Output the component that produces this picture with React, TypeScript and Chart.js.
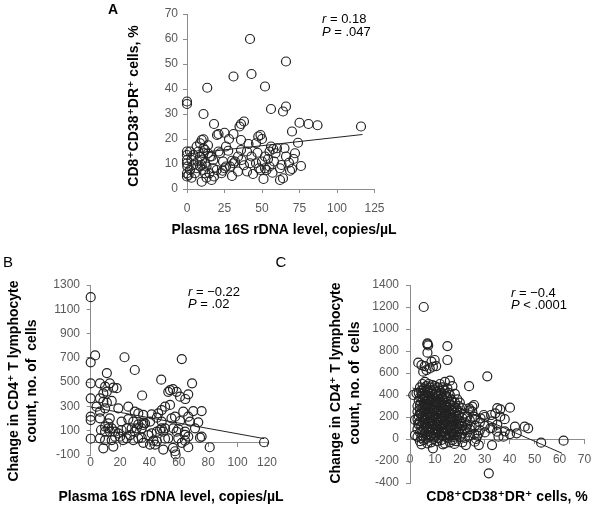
import React, { useEffect, useRef } from 'react';
import { Chart, registerables } from 'chart.js';

Chart.register(...registerables);

const FONT = "'Liberation Sans', Arial, 'DejaVu Sans', sans-serif";

// ---------- Panel A: CD8+CD38+DR+ (%) vs plasma 16S rDNA ----------
const panelA: [number, number][] = [
  [42, 60], [66, 51], [31, 45], [43, 46], [13.5, 40.5], [52, 41], [0, 35], [0, 34], [11, 30], [56, 32],
  [66, 33], [64, 31], [18, 26], [35, 25], [36, 26], [38, 27], [75, 26.5], [81, 26], [87, 25.5], [116, 25],
  [70, 23], [20, 21.6], [21, 22], [25, 22.5], [31, 22], [36, 19.6], [47.5, 21], [49, 21.6], [50, 20], [46, 18.3],
  [56, 17], [57.5, 16], [60, 16.3], [55, 15], [59, 14.3], [65, 16.3], [74, 18.5], [72, 14.3], [76, 9.2], [70, 8],
  [68.7, 7.3], [63, 9.6], [62, 8.3], [66, 13], [62, 3.6], [64, 4.3], [51, 4], [49, 7.6], [48, 8.3], [52, 8.3],
  [53, 7.6], [55, 9], [50, 11], [46, 10.3], [54, 12], [52, 13], [42, 10.3], [43, 13], [40, 7], [31, 10.3],
  [30, 11.3], [32, 11], [28.7, 9], [23.8, 7.3], [25, 8.3], [23, 6.3], [26, 9], [30, 5.2], [26, 17], [27.5, 15.3],
  [21, 15], [22, 14.3], [17.5, 11.6], [16.4, 13], [36, 15.6], [40, 15], [34, 13], [36.4, 11.6], [17.5, 8.3], [19.8, 7.6],
  [15, 6.3], [16.4, 3.6], [10.9, 7.6], [12, 6.3], [13, 9], [9.8, 9.6], [9.8, 2.9], [5.3, 6.3], [6.4, 8.3], [4.2, 9.6],
  [8.7, 13], [11, 14.3], [7.6, 15], [6.4, 17], [8.7, 18.3], [9.8, 19.6], [11, 19.9], [11, 16.3], [12, 15.6], [14, 14.3],
  [15.3, 13], [2, 15], [0, 15], [0, 13.6], [0, 10.3], [0.2, 9], [0, 6.3], [1, 5.6], [0, 5], [2, 7.6],
  [0, 11.6], [4.2, 13.6], [3, 11.6], [8.7, 9], [12, 10.3], [24, 11], [34, 7], [38, 9.5], [44, 6], [57, 6.5],
  [58, 11], [68, 10.5], [71, 12], [47, 14.5], [41, 18], [28, 20], [14, 17.5], [10, 11.5], [7, 11], [3, 4.5],
  [13, 4.5], [18, 5],
];
const trendA: [number, number][] = [[0, 14], [117, 21.8]];
const aXTicks = [0, 25, 50, 75, 100, 125];
const aYTicks = [0, 10, 20, 30, 40, 50, 60, 70];

// ---------- Panel B: change in CD4+ count vs plasma 16S rDNA ----------
const panelB: [number, number][] = [
  [0, 1200], [3, 720], [0, 663], [23, 705], [62, 690], [30, 600], [11, 575], [0, 490], [6.3, 490], [9.8, 463],
  [13, 490], [15.4, 455], [17.7, 450], [48, 520], [69, 490], [54, 435], [56, 443], [58.5, 420], [52.8, 420], [60.8, 380],
  [64.4, 361], [66.4, 400], [35, 390], [0, 367], [6.3, 367], [8.6, 339], [11, 331], [14.3, 345], [8.6, 408], [11, 422],
  [4, 298], [6.3, 257], [9.8, 284], [18.8, 284], [25.6, 298], [30, 257], [32.4, 243], [35.8, 230], [50.6, 298], [54, 312],
  [48.3, 270], [46, 243], [41.5, 235], [69.8, 262], [75.5, 262], [63, 257], [66.4, 216], [73.2, 169], [67.6, 175], [60.8, 180],
  [0, 216], [0, 188], [6.3, 202], [13, 202], [21, 175], [25.6, 196], [29, 175], [32.4, 153], [35.8, 166], [40.4, 175],
  [45, 207], [48.3, 175], [50.6, 120], [49.4, 92], [47.2, 106], [55, 202], [57.4, 216], [56.2, 120], [59.6, 114], [64.2, 92],
  [64.2, 66], [66.4, 52], [71, 120], [74.4, 43], [75.5, 52], [7, 106], [9.8, 92], [12, 120], [13.2, 92], [16.6, 92],
  [18.8, 78], [21, 106], [9.8, 134], [12, 161], [14.3, 120], [24.5, 120], [27.9, 120], [30, 92], [31.3, 120], [34.7, 120],
  [35.8, 147], [37, 161], [20, 51], [22, 23], [24.5, 37], [26.8, 64], [29, 23], [32.4, 37], [34.7, 43], [0, 34],
  [6.3, 37], [9.8, 23], [14.3, 23], [16.6, 51], [8.6, -45], [15.4, -31], [35.8, 0], [40.4, -14], [43.8, -14], [45, 13],
  [42.7, 18], [49.4, -55], [50.6, 34], [52.8, 37], [56, -41], [57.4, -69], [57.8, -96], [66.4, -36], [81, -36], [118, 5],
  [59.6, 37], [62, 0], [64.2, 18], [58.5, 92], [39.2, 64], [41.5, 78], [45, 92], [48.3, 120],
];
const trendB: [number, number][] = [[0, 295], [118, 35]];
const bXTicks = [0, 20, 40, 60, 80, 100, 120];
const bYTicks = [-100, 100, 300, 500, 700, 900, 1100, 1300];

// ---------- Panel C: change in CD4+ count vs CD8+CD38+DR+ ----------
const panelC: [number, number][] = [
  [5.5, 1200], [7, 870], [7.3, 850], [7, 860], [15, 845], [7, 785], [15, 718], [3.3, 694], [4.6, 672], [5.9, 663],
  [8.6, 703], [9.9, 718], [10.5, 663], [9.2, 657], [6.6, 627], [7.9, 642], [5.3, 612], [31, 570], [23.7, 480], [1.3, 400],
  [2.6, 415], [36.2, 270], [40.1, 285], [32.5, 218], [36.2, 203], [34.2, 233], [29.6, 218], [28.3, 188], [25.7, 203], [25, 248],
  [23.7, 279], [25.7, 309], [25, 294], [42.1, 112], [46, 112], [47.4, 97], [42.8, 52], [40.1, 45], [37.5, 21], [35.5, 21],
  [52.6, -33], [61.6, -15], [31.6, -312], [32.9, -55], [27.6, -55], [22.4, -55], [17.8, -45], [13.2, -48], [9.2, -85], [4.6, -48],
  [26, -24], [26.5, 0], [27, 30], [27.5, 50], [25.8, 45], [34.9, 67], [32.2, 97], [24.3, 112], [22.4, 97], [20.4, 142],
  [2, 36], [3.3, 142], [2, 173], [4, 233],
  [3, 300], [3, 250], [3, 180], [3, 90], [3, 20],
  [3.5, 420], [3.5, 350], [3.5, 210], [3.5, 130],
  [4, 470], [4, 380], [4, 310], [4, 270], [4, 160], [4, 60], [4, -20],
  [4.5, 440], [4.5, 330], [4.5, 230], [4.5, 120], [4.5, 10],
  [5, 500], [5, 410], [5, 360], [5, 290], [5, 200], [5, 150], [5, 80], [5, 30],
  [5.5, 460], [5.5, 390], [5.5, 320], [5.5, 250], [5.5, 170], [5.5, 100], [5.5, -10],
  [6, 520], [6, 430], [6, 370], [6, 300], [6, 260], [6, 190], [6, 130], [6, 50],
  [6.5, 480], [6.5, 400], [6.5, 340], [6.5, 280], [6.5, 220], [6.5, 140], [6.5, 70], [6.5, 0],
  [7, 450], [7, 380], [7, 320], [7, 240], [7, 180], [7, 110], [7, 40], [7, -40],
  [7.5, 500], [7.5, 420], [7.5, 350], [7.5, 290], [7.5, 230], [7.5, 160], [7.5, 90], [7.5, 20],
  [8, 470], [8, 390], [8, 330], [8, 270], [8, 200], [8, 150], [8, 60],
  [8.5, 440], [8.5, 360], [8.5, 300], [8.5, 240], [8.5, 170], [8.5, 110], [8.5, 30], [8.5, -30],
  [9, 490], [9, 410], [9, 340], [9, 280], [9, 220], [9, 140], [9, 80],
  [9.5, 450], [9.5, 370], [9.5, 310], [9.5, 250], [9.5, 190], [9.5, 120], [9.5, 50], [9.5, 0],
  [10, 480], [10, 400], [10, 330], [10, 260], [10, 200], [10, 150], [10, 90], [10, 20],
  [10.5, 430], [10.5, 350], [10.5, 290], [10.5, 230], [10.5, 160], [10.5, 100], [10.5, 40],
  [11, 470], [11, 390], [11, 320], [11, 250], [11, 190], [11, 130], [11, 70], [11, -20],
  [11.5, 410], [11.5, 340], [11.5, 270], [11.5, 210], [11.5, 150], [11.5, 80], [11.5, 10],
  [12, 500], [12, 440], [12, 360], [12, 300], [12, 230], [12, 170], [12, 110], [12, 40],
  [12.5, 420], [12.5, 330], [12.5, 260], [12.5, 190], [12.5, 120], [12.5, 60], [12.5, -10],
  [13, 470], [13, 380], [13, 310], [13, 240], [13, 180], [13, 100], [13, 30],
  [13.5, 450], [13.5, 350], [13.5, 280], [13.5, 210], [13.5, 140], [13.5, 70],
  [14, 520], [14, 410], [14, 330], [14, 260], [14, 200], [14, 130], [14, 50], [14, -40],
  [14.5, 390], [14.5, 300], [14.5, 230], [14.5, 160], [14.5, 90], [14.5, 20],
  [15, 460], [15, 370], [15, 290], [15, 220], [15, 150], [15, 80], [15, 10],
  [15.5, 420], [15.5, 340], [15.5, 250], [15.5, 180], [15.5, 110], [15.5, 40],
  [16, 530], [16, 400], [16, 310], [16, 240], [16, 170], [16, 100], [16, 30], [16, -30],
  [16.5, 360], [16.5, 270], [16.5, 200], [16.5, 130], [16.5, 60],
  [17, 480], [17, 340], [17, 260], [17, 190], [17, 120], [17, 50], [17, -10],
  [17.5, 300], [17.5, 220], [17.5, 150], [17.5, 80], [17.5, 20],
  [18, 410], [18, 330], [18, 240], [18, 170], [18, 100], [18, 40],
  [18.5, 280], [18.5, 200], [18.5, 130], [18.5, 60], [18.5, -20],
  [19, 360], [19, 260], [19, 180], [19, 110], [19, 40],
  [19.5, 300], [19.5, 210], [19.5, 140], [19.5, 70],
  [20, 330], [20, 240], [20, 160], [20, 90], [20, 20],
  [21, 280], [21, 190], [21, 120], [21, 50], [21, -30],
  [22, 230], [22, 150], [22, 80], [22, 10],
  [23, 200], [23, 130], [23, 60],
  [24, 260], [24, 170], [24, 90], [24, 30],
  [26, 180], [26, 120], [28, 150], [28, 80], [30, 120], [30, 200], [30, 60],
  [33, 160], [33, 100], [35, 130], [35, 280], [38, 70], [38, 180],
];
const trendC: [number, number][] = [[1, 465], [61, -130]];
const cXTicks = [0, 10, 20, 30, 40, 50, 60, 70];
const cYTicks = [-400, -200, 0, 200, 400, 600, 800, 1000, 1200, 1400];

const titleX16S = 'Plasma 16S rDNA level, copies/µL';
const titleCD8 = 'CD8⁺CD38⁺DR⁺ cells, %';
const titleCD4 = ['Change in CD4⁺ T lymphocyte', 'count, no. of  cells'];

// ---------- drawing helpers ----------
const AXIS_COLOR = '#8c8c8c';
const TICK_COLOR = '#595959';
const MARK_COLOR = '#222222';
const TITLE_FONT = `bold 14px ${FONT}`;

const notesPlugin = {
  id: 'panelNotes',
  afterDraw(chart: any, _args: any, opts: any) {
    const ctx = chart.ctx as CanvasRenderingContext2D;
    ctx.save();
    ctx.textBaseline = 'middle';
    ctx.fillStyle = '#000';
    // panel letter
    ctx.font = opts.letterFont;
    ctx.textAlign = 'center';
    ctx.fillText(opts.letter, opts.letterX, opts.letterY);
    // axis titles
    ctx.font = TITLE_FONT;
    const xt = opts.xTitle;
    ctx.fillText(xt.text, xt.x, xt.y);
    const yt = opts.yTitle;
    const lines: string[] = Array.isArray(yt.text) ? yt.text : [yt.text];
    lines.forEach((t, i) => {
      ctx.save();
      ctx.translate(yt.x + i * yt.gap, yt.y);
      ctx.rotate(-Math.PI / 2);
      ctx.fillText(t, 0, 0);
      ctx.restore();
    });
    // statistics
    ctx.textAlign = 'left';
    for (const ln of opts.lines) {
      ctx.font = `italic 13px ${FONT}`;
      ctx.fillText(ln.sym, ln.x, ln.y);
      const w = ctx.measureText(ln.sym).width;
      ctx.font = `13px ${FONT}`;
      ctx.fillText(ln.rest, ln.x + w, ln.y);
    }
    ctx.restore();
  },
};

interface PanelCfg {
  points: [number, number][];
  trend: [number, number][];
  xTicks: number[];
  yTicks: number[];
  padding: { left: number; right: number; top: number; bottom: number };
  yWidth: number;
  xHeight: number;
  xAtZero: boolean;
  xTickPad: number;
  yTickPad: number;
  notes: any;
}

function buildChart(canvas: HTMLCanvasElement, c: PanelCfg) {
  const tickFont = { family: FONT, size: 12 };
  const step = (t: number[]) => t[1] - t[0];
  return new Chart(canvas, {
    type: 'scatter',
    data: {
      datasets: [
        {
          data: c.points.map(([x, y]) => ({ x, y })),
          pointStyle: 'circle',
          pointRadius: 4.5,
          pointHoverRadius: 4.5,
          pointBorderWidth: 1.2,
          borderColor: MARK_COLOR,
          backgroundColor: 'rgba(0,0,0,0)',
          showLine: false,
          clip: false as any,
        },
        {
          data: c.trend.map(([x, y]) => ({ x, y })),
          showLine: true,
          pointRadius: 0,
          borderColor: MARK_COLOR,
          borderWidth: 1,
          backgroundColor: 'rgba(0,0,0,0)',
          clip: false as any,
        },
      ],
    },
    options: {
      animation: false,
      responsive: false,
      maintainAspectRatio: false,
      devicePixelRatio: 1,
      events: [],
      layout: { padding: c.padding },
      plugins: {
        legend: { display: false },
        tooltip: { enabled: false },
        panelNotes: c.notes,
      } as any,
      scales: {
        x: {
          type: 'linear',
          axis: 'x',
          position: (c.xAtZero ? { y: 0 } : 'bottom') as any,
          min: c.xTicks[0],
          max: c.xTicks[c.xTicks.length - 1],
          afterFit: (s: any) => { s.height = c.xHeight; },
          ticks: {
            stepSize: step(c.xTicks),
            autoSkip: false,
            maxRotation: 0,
            padding: c.xTickPad,
            color: TICK_COLOR,
            font: tickFont,
            callback: (v: any) => String(v),
          },
          grid: { drawOnChartArea: false, drawTicks: true, tickLength: 4, color: AXIS_COLOR },
          border: { display: true, color: AXIS_COLOR, width: 1 },
          title: { display: false },
        },
        y: {
          type: 'linear',
          position: 'left',
          min: c.yTicks[0],
          max: c.yTicks[c.yTicks.length - 1],
          afterFit: (s: any) => { s.width = c.yWidth; },
          ticks: {
            stepSize: step(c.yTicks),
            autoSkip: false,
            padding: c.yTickPad,
            color: TICK_COLOR,
            font: tickFont,
            callback: (v: any) => String(v),
          },
          grid: { drawOnChartArea: false, drawTicks: true, tickLength: 4, color: AXIS_COLOR },
          border: { display: true, color: AXIS_COLOR, width: 1 },
          title: { display: false },
        },
      },
    },
    plugins: [notesPlugin as any],
  });
}

export default function App() {
  const refA = useRef<HTMLCanvasElement>(null);
  const refB = useRef<HTMLCanvasElement>(null);
  const refC = useRef<HTMLCanvasElement>(null);

  useEffect(() => {
    const charts: Chart[] = [];
    if (refA.current) {
      charts.push(buildChart(refA.current, {
        points: panelA, trend: trendA, xTicks: aXTicks, yTicks: aYTicks,
        padding: { left: 124.9, right: 226.5, top: 14, bottom: 10.9 },
        yWidth: 62.1, xHeight: 50.1, xAtZero: false, xTickPad: 8.8, yTickPad: 5,
        notes: {
          letter: 'A', letterFont: `bold 14px ${FONT}`, letterX: 113, letterY: 10,
          xTitle: { text: titleX16S, x: 284, y: 230 },
          yTitle: { text: titleCD8, x: 134, y: 106, gap: 0 },
          lines: [
            { sym: 'r', rest: ' = 0.18', x: 322, y: 19 },
            { sym: 'P', rest: ' = .047', x: 322, y: 32 },
          ],
        },
      }));
    }
    if (refB.current) {
      charts.push(buildChart(refB.current, {
        points: panelB, trend: trendB, xTicks: bXTicks, yTicks: bYTicks,
        padding: { left: 4.9, right: 33, top: 35, bottom: 52 },
        yWidth: 85.8, xHeight: 63.2, xAtZero: true, xTickPad: 9, yTickPad: 6.7,
        notes: {
          letter: 'B', letterFont: `15px ${FONT}`, letterX: 8, letterY: 13,
          xTitle: { text: titleX16S, x: 171, y: 247 },
          yTitle: { text: titleCD4, x: 14, y: 131, gap: 18 },
          lines: [
            { sym: 'r', rest: ' = −0.22', x: 188, y: 42 },
            { sym: 'P', rest: ' = .02', x: 188, y: 54 },
          ],
        },
      }));
    }
    if (refC.current) {
      charts.push(buildChart(refC.current, {
        points: panelC, trend: trendC, xTicks: cXTicks, yTicks: cYTicks,
        padding: { left: 56.9, right: 13, top: 35, bottom: 24 },
        yWidth: 83.1, xHeight: 67.1, xAtZero: true, xTickPad: 9.8, yTickPad: 7,
        notes: {
          letter: 'C', letterFont: `15px ${FONT}`, letterX: 11, letterY: 13,
          xTitle: { text: titleCD8, x: 237, y: 247 },
          yTitle: { text: titleCD4, x: 66, y: 133, gap: 19 },
          lines: [
            { sym: 'r', rest: ' = −0.4', x: 241, y: 43 },
            { sym: 'P', rest: ' < .0001', x: 241, y: 55 },
          ],
        },
      }));
    }
    return () => charts.forEach((ch) => ch.destroy());
  }, []);

  return (
    <div style={{ position: 'absolute', left: 0, top: 0, width: 601, height: 507, background: '#fff', overflow: 'hidden' }}>
      <canvas ref={refA} width={601} height={250} style={{ position: 'absolute', left: 0, top: 0, width: 601, height: 250 }} />
      <canvas ref={refB} width={300} height={257} style={{ position: 'absolute', left: 0, top: 250, width: 300, height: 257 }} />
      <canvas ref={refC} width={331} height={257} style={{ position: 'absolute', left: 270, top: 250, width: 331, height: 257 }} />
    </div>
  );
}
